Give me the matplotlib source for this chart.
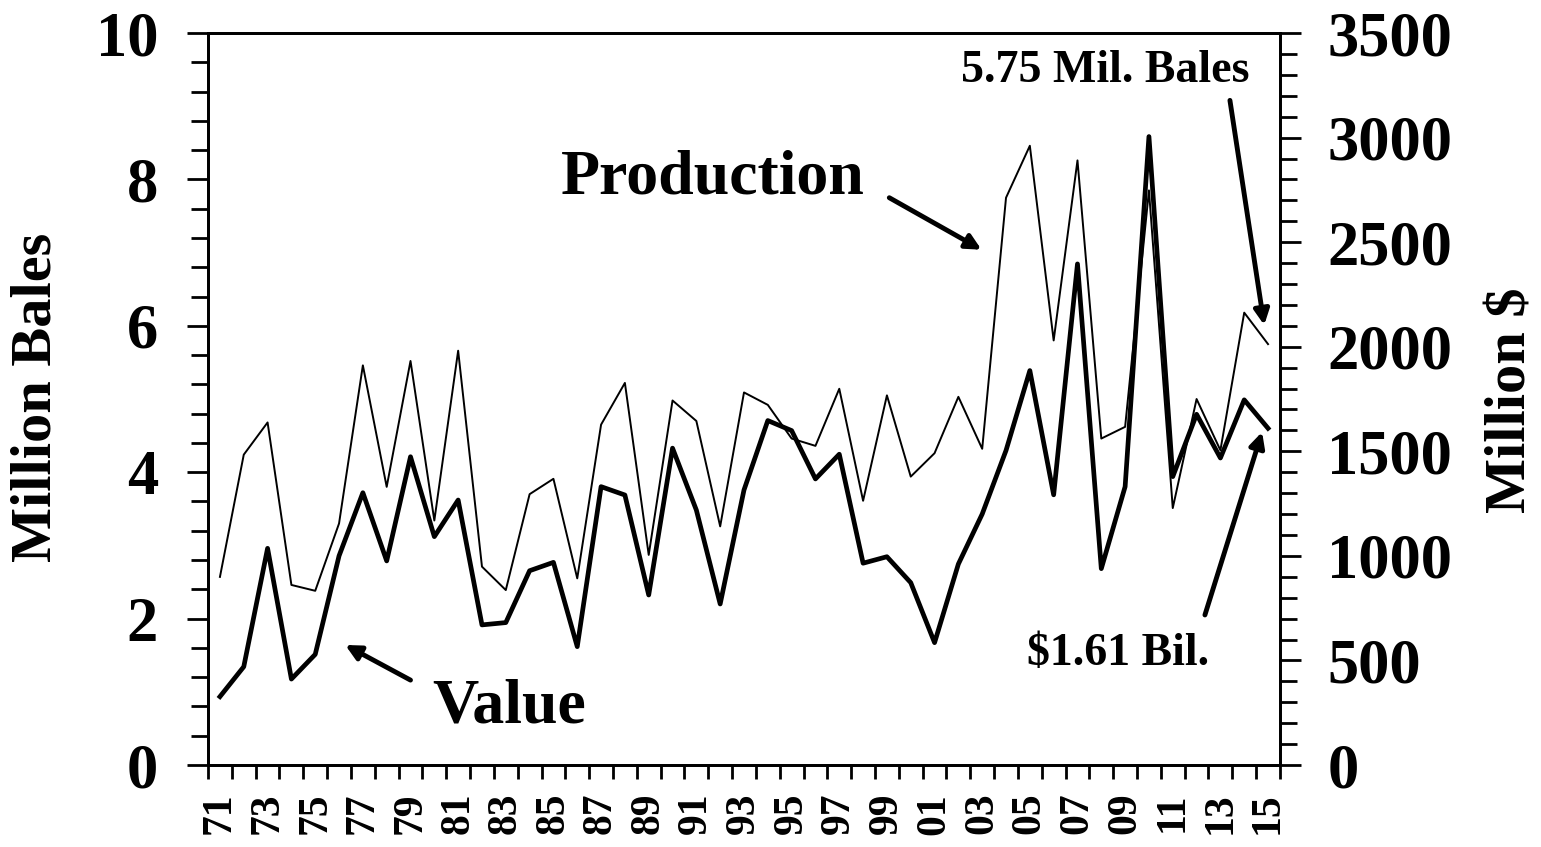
import numpy as np
import matplotlib.pyplot as plt
from matplotlib.ticker import MultipleLocator, FixedLocator

plt.rcParams['font.family'] = ['Liberation Serif', 'DejaVu Serif']
plt.rcParams['font.weight'] = 'bold'

# Years 1971 - 2015, labels every other year
years = ['71', '72', '73', '74', '75', '76', '77', '78', '79', '80',
         '81', '82', '83', '84', '85', '86', '87', '88', '89', '90',
         '91', '92', '93', '94', '95', '96', '97', '98', '99', '00',
         '01', '02', '03', '04', '05', '06', '07', '08', '09', '10',
         '11', '12', '13', '14', '15']

# Production, million bales
production = [2.57, 4.24, 4.68, 2.46, 2.38, 3.30, 5.46, 3.80, 5.52, 3.34,
              5.66, 2.71, 2.39, 3.70, 3.91, 2.55, 4.65, 5.22, 2.87, 4.98,
              4.70, 3.26, 5.09, 4.92, 4.46, 4.36, 5.14, 3.61, 5.05, 3.94,
              4.26, 5.03, 4.32, 7.75, 8.46, 5.80, 8.26, 4.46, 4.62, 7.85,
              3.51, 5.00, 4.30, 6.18, 5.75]

# Value, million dollars
value = [327, 470, 1036, 411, 529, 1000, 1302, 976, 1474, 1092,
         1267, 670, 681, 929, 969, 566, 1331, 1291, 813, 1515,
         1219, 770, 1315, 1647, 1599, 1368, 1486, 965, 996, 872,
         585, 961, 1200, 1504, 1886, 1292, 2396, 939, 1331, 3005,
         1379, 1677, 1468, 1746, 1610]

x = np.arange(len(years))

fig = plt.figure(figsize=(15.41, 8.47), dpi=100)
ax = fig.add_axes([0.135, 0.0968, 0.6956, 0.8642])
ax2 = ax.twinx()

ax.plot(x, production, color='black', linewidth=1.4)
ax2.plot(x, value, color='black', linewidth=3.4)

ax.set_xlim(-0.5, len(years) - 0.5)
ax.set_ylim(0, 10)
ax2.set_ylim(0, 3500)

for a in (ax, ax2):
    for s in a.spines.values():
        s.set_linewidth(2)

# x axis: tick marks between years, labels every other year
ax.xaxis.set_major_locator(FixedLocator(x[::2]))
ax.set_xticklabels(years[::2], rotation=90, fontsize=30, fontweight='bold')
ax.xaxis.set_minor_locator(FixedLocator(np.arange(-0.5, len(years), 1.0)))
ax.tick_params(axis='x', which='major', length=0, pad=20)
ax.tick_params(axis='x', which='minor', length=10, width=2, direction='out')

ax.yaxis.set_major_locator(MultipleLocator(2))
ax.yaxis.set_minor_locator(MultipleLocator(0.4))
ax.tick_params(axis='y', which='major', length=15, width=2, pad=21, labelsize=45)
ax.tick_params(axis='y', which='minor', length=12, width=2)

ax2.yaxis.set_major_locator(MultipleLocator(500))
ax2.yaxis.set_minor_locator(MultipleLocator(100))
ax2.tick_params(axis='y', which='major', length=15, width=2, pad=19, labelsize=45)
ax2.tick_params(axis='y', which='minor', length=12, width=2)

for lab in ax.get_yticklabels() + ax2.get_yticklabels():
    lab.set_fontweight('bold')

fig.text(0.024, 0.531, 'Million Bales', fontsize=42, fontweight='bold',
         rotation=90, ha='center', va='center')
fig.text(0.981, 0.528, 'Million $', fontsize=42, fontweight='bold',
         rotation=90, ha='center', va='center')

arrow = dict(arrowstyle='-|>,head_length=0.9,head_width=0.45', color='black',
             linewidth=3.5, shrinkA=0, shrinkB=0)

ax.text(14.3, 7.81, 'Production', fontsize=46, fontweight='bold', va='baseline')
ax.annotate('', xy=(31.97, 7.04), xytext=(28.1, 7.75), arrowprops=arrow)

ax.text(8.92, 0.587, 'Value', fontsize=46, fontweight='bold', va='baseline')
ax.annotate('', xy=(5.26, 1.64), xytext=(8.0, 1.16), arrowprops=arrow)

ax.text(31.1, 9.33, '5.75 Mil. Bales', fontsize=33, fontweight='bold', va='baseline')
ax.annotate('', xy=(43.84, 6.01), xytext=(42.4, 9.08), arrowprops=arrow)

ax.text(33.87, 1.37, '$1.61 Bil.', fontsize=33, fontweight='bold', va='baseline')
ax.annotate('', xy=(43.75, 4.55), xytext=(41.35, 2.05), arrowprops=arrow)

fig.savefig('out.png', dpi=100)
